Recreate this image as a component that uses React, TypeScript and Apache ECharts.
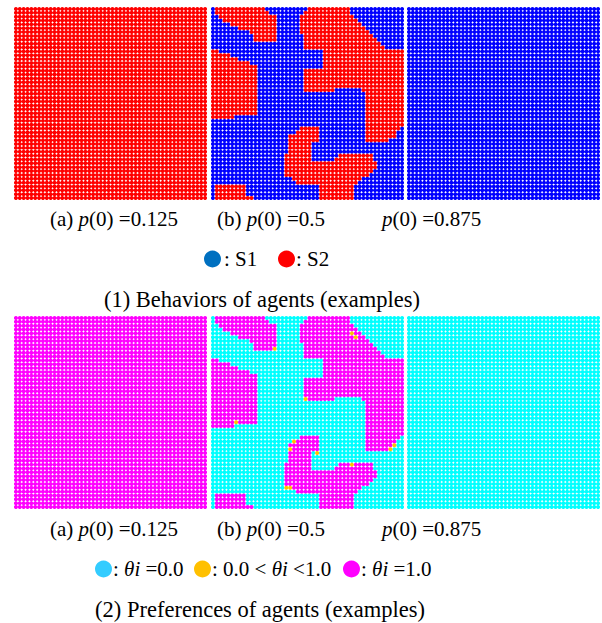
import React, { useEffect, useRef } from 'react';
import * as echarts from 'echarts';

const GRID_N = 50;

// Red (S2) runs in panel (b) of the behaviour map: per row, [firstCol, lastCol]
const s2Runs: number[][][] = [
  [[1, 13], [25, 35]],
  [[1, 14], [24, 35]],
  [[2, 16], [23, 36]],
  [[3, 16], [23, 37]],
  [[5, 16], [23, 38]],
  [[7, 16], [23, 39]],
  [[10, 16], [23, 40]],
  [[11, 16], [24, 41]],
  [[11, 16], [24, 42]],
  [[24, 43]],
  [[24, 44]],
  [[0, 1], [29, 49]],
  [[0, 4], [29, 49]],
  [[0, 6], [29, 49]],
  [[0, 9], [29, 49]],
  [[0, 11], [29, 49]],
  [[0, 11], [24, 49]],
  [[0, 11], [24, 49]],
  [[0, 11], [24, 49]],
  [[0, 11], [24, 49]],
  [[0, 11], [24, 49]],
  [[0, 11], [24, 31], [39, 49]],
  [[0, 11], [40, 49]],
  [[0, 11], [40, 49]],
  [[0, 11], [40, 49]],
  [[0, 11], [40, 49]],
  [[0, 11], [40, 49]],
  [[0, 11], [40, 49]],
  [[0, 5], [40, 49]],
  [[40, 49]],
  [[40, 49]],
  [[23, 27], [40, 48]],
  [[22, 27], [40, 47]],
  [[20, 27], [40, 47]],
  [[20, 27], [40, 45]],
  [[20, 25]],
  [[20, 25]],
  [[20, 25]],
  [[19, 25], [33, 41]],
  [[19, 25], [32, 41]],
  [[19, 42]],
  [[19, 42]],
  [[19, 41]],
  [[19, 40]],
  [[21, 38]],
  [[22, 37]],
  [[1, 8], [28, 36]],
  [[1, 8], [28, 36]],
  [[1, 8], [28, 36]],
  [[1, 10], [28, 36]],
];

// Agents with intermediate preference (0 < θi < 1): [row, col]
const mixedCells: number[][] = [
  [8, 16], [4, 36], [5, 37], [21, 24], [27, 6], [32, 21], [34, 20],
  [35, 27], [33, 47], [34, 46], [38, 36], [44, 19], [44, 20],
];

const panelLabels = ['(a) {i|p}(0) =0.125', '(b) {i|p}(0) =0.5', '{i|p}(0) =0.875'];
const behaviorLegend = [': S1', ': S2'];
const preferenceLegend = [': {i|θi} =0.0', ': 0.0 < {i|θi} <1.0', ': {i|θi} =1.0'];
const titles = ['(1) Behaviors of agents (examples)', '(2) Preferences of agents (examples)'];

const RED = '#ff0000';
const BLUE = '#0000ff';
const MAGENTA = '#ff00ff';
const CYAN = '#00ffff';
const YELLOW = '#ffc000';

function allCells(): number[][] {
  const out: number[][] = [];
  for (let r = 0; r < GRID_N; r++) for (let c = 0; c < GRID_N; c++) out.push([c, r]);
  return out;
}

function splitCells(exclude: Set<string>) {
  const s1: number[][] = [];
  const s2: number[][] = [];
  for (let r = 0; r < GRID_N; r++) {
    for (let c = 0; c < GRID_N; c++) {
      if (exclude.has(r + ',' + c)) continue;
      const red = (s2Runs[r] || []).some(([a, b]) => c >= a && c <= b);
      (red ? s2 : s1).push([c, r]);
    }
  }
  return { s1, s2 };
}

const FONT = 'Liberation Serif';

export default function App() {
  const ref = useRef<HTMLDivElement>(null);
  useEffect(() => {
    document.body.style.margin = '0';
    if (!ref.current) return;
    const chart = echarts.init(ref.current, undefined, { renderer: 'svg' });

    const lefts = [14, 211, 407];
    const tops = [7, 316];
    const size = 193;
    const grids: any[] = [];
    const xAxes: any[] = [];
    const yAxes: any[] = [];
    tops.forEach((t) =>
      lefts.forEach((l) => {
        grids.push({ left: l, top: t, width: size, height: size });
        const i = grids.length - 1;
        xAxes.push({ gridIndex: i, type: 'value', min: -0.5, max: GRID_N - 0.5, show: false });
        yAxes.push({ gridIndex: i, type: 'value', min: -0.5, max: GRID_N - 0.5, inverse: true, show: false });
      })
    );

    const full = allCells();
    const plain = splitCells(new Set());
    const mixedSet = new Set(mixedCells.map(([r, c]) => r + ',' + c));
    const pref = splitCells(mixedSet);
    const mixedData = mixedCells.map(([r, c]) => [c, r]);

    const sym = 4.0;
    const mk = (idx: number, data: number[][], color: string, large = true) => ({
      type: 'scatter',
      xAxisIndex: idx,
      yAxisIndex: idx,
      data,
      symbol: 'circle',
      symbolSize: sym,
      large,
      largeThreshold: 50,
      progressive: 0,
      silent: true,
      itemStyle: { color, opacity: 1 },
    });

    const series = [
      mk(0, full, RED),
      mk(1, plain.s1, BLUE),
      mk(1, plain.s2, RED),
      mk(2, full, BLUE),
      mk(3, full, MAGENTA),
      mk(4, pref.s1, CYAN),
      mk(4, pref.s2, MAGENTA),
      mk(4, mixedData, YELLOW, false),
      mk(5, full, CYAN),
    ];

    const txt = (x: number, y: number, text: string, size: number, align = 'left') => ({
      type: 'text',
      x,
      y,
      silent: true,
      style: {
        text,
        rich: { i: { fontStyle: 'italic', fontFamily: FONT, fontSize: size, fill: '#000' } },
        fontFamily: FONT,
        fontSize: size,
        fill: '#000',
        align,
        verticalAlign: 'middle',
      },
    });
    const dot = (cx: number, cy: number, color: string) => ({
      type: 'circle',
      silent: true,
      shape: { cx, cy, r: 8.5 },
      style: { fill: color },
    });

    const labelX = [50, 217, 382];
    const graphic: any[] = [];
    [219, 529].forEach((y) => panelLabels.forEach((t, i) => graphic.push(txt(labelX[i], y, t, 21))));
    graphic.push(dot(212.5, 259, '#0070c0'), txt(224, 259, behaviorLegend[0], 21));
    graphic.push(dot(286.5, 259, RED), txt(296, 259, behaviorLegend[1], 21));
    graphic.push(dot(103.5, 569, '#33ccff'), txt(113, 569, preferenceLegend[0], 21));
    graphic.push(dot(202.5, 569, YELLOW), txt(212, 569, preferenceLegend[1], 21));
    graphic.push(dot(351.5, 569, MAGENTA), txt(361, 569, preferenceLegend[2], 21));
    graphic.push(txt(262, 299, titles[0], 22.5, 'center'));
    graphic.push(txt(260, 609, titles[1], 22.5, 'center'));

    chart.setOption({
      animation: false,
      backgroundColor: '#ffffff',
      grid: grids,
      xAxis: xAxes,
      yAxis: yAxes,
      series,
      graphic,
    });
    return () => chart.dispose();
  }, []);
  return <div ref={ref} style={{ width: 602, height: 623, position: 'absolute', left: 0, top: 0 }} />;
}
